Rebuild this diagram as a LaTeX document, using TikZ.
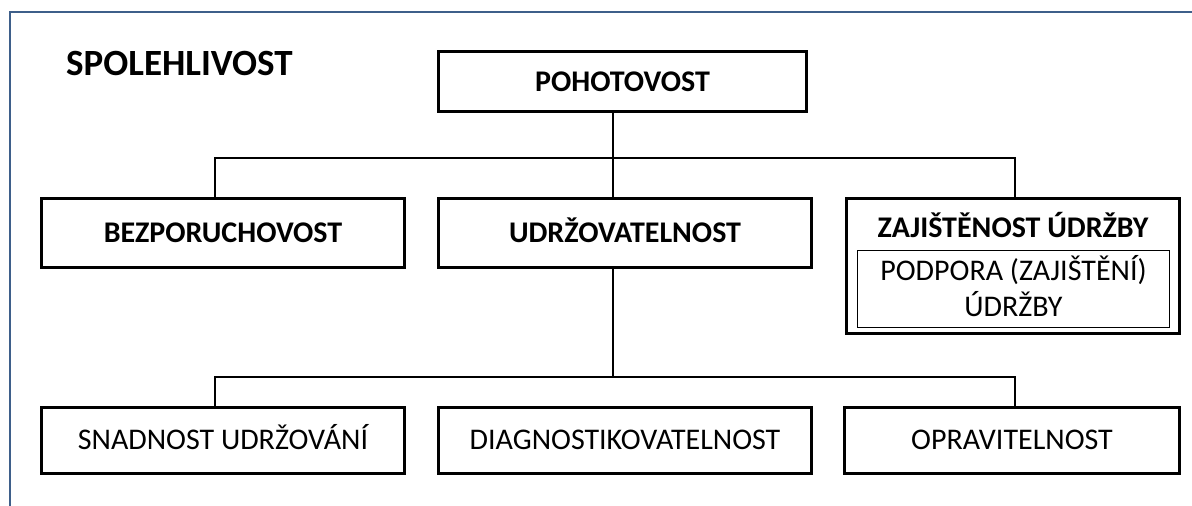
\documentclass[tikz,border=0pt]{standalone}
\usepackage{fontspec}
\setmainfont{Carlito}
\definecolor{framecol}{HTML}{3E5F8A}
\begin{document}
\begin{tikzpicture}[x=1pt,y=-1pt,
  box/.style={draw, line width=3pt, inner sep=0pt, align=center, text height=19pt, text depth=0pt, font=\fontsize{30}{36}\selectfont},
  bbox/.style={box, font=\fontsize{30}{36}\selectfont\bfseries},
  conn/.style={line width=1.5pt}]
\useasboundingbox (0,0) rectangle (1192,506);
\draw[framecol, line width=2pt] (10,506) -- (10,12) -- (1192,12);
\node[anchor=west, font=\fontsize{37}{42}\selectfont\bfseries, inner sep=0pt, text height=24pt, text depth=0pt] (title) at (66,63.5) {SPOLEHLIVOST};
\node[bbox, minimum width=368, minimum height=60] (poh) at (622.5,81.5) {POHOTOVOST};
\node[bbox, minimum width=363, minimum height=69] (bez) at (223,233) {BEZPORUCHOVOST};
\node[bbox, minimum width=373, minimum height=69] (udr) at (625,233) {UDRŽOVATELNOST};
\node[draw, line width=3pt, minimum width=333, minimum height=135, inner sep=0pt] (zaj) at (1013,266) {};
\node[font=\fontsize{30}{36}\selectfont\bfseries, inner sep=0pt, text height=19pt, text depth=0pt] (zajt) at (1013,227.5) {ZAJIŠTĚNOST ÚDRŽBY};
\node[draw, line width=1pt, minimum width=312, minimum height=77, inner sep=0pt, align=center, text height=55pt, text depth=0pt, font=\fontsize{30}{36}\selectfont] (zaji) at (1013.5,289) {PODPORA (ZAJIŠTĚNÍ)\\ÚDRŽBY};
\node[box, minimum width=363, minimum height=66] (sna) at (223,440) {SNADNOST UDRŽOVÁNÍ};
\node[box, minimum width=373, minimum height=66] (dia) at (625,440) {DIAGNOSTIKOVATELNOST};
\node[box, minimum width=335, minimum height=66] (opr) at (1012,440) {OPRAVITELNOST};
\coordinate (j1) at (613,158);
\coordinate (l1) at (215,158);
\coordinate (r1) at (1015,158);
\coordinate (j2) at (613,377);
\coordinate (l2) at (215,377);
\coordinate (r2) at (1015,377);
\draw[conn] (poh.south -| j1) -- (udr.north -| j1);
\draw[conn] (bez.north -| l1) -- (l1) -- (r1) -- (zaj.north -| r1);
\draw[conn] (udr.south -| j2) -- (j2);
\draw[conn] (sna.north -| l2) -- (l2) -- (r2) -- (opr.north -| r2);
\end{tikzpicture}
\end{document}
